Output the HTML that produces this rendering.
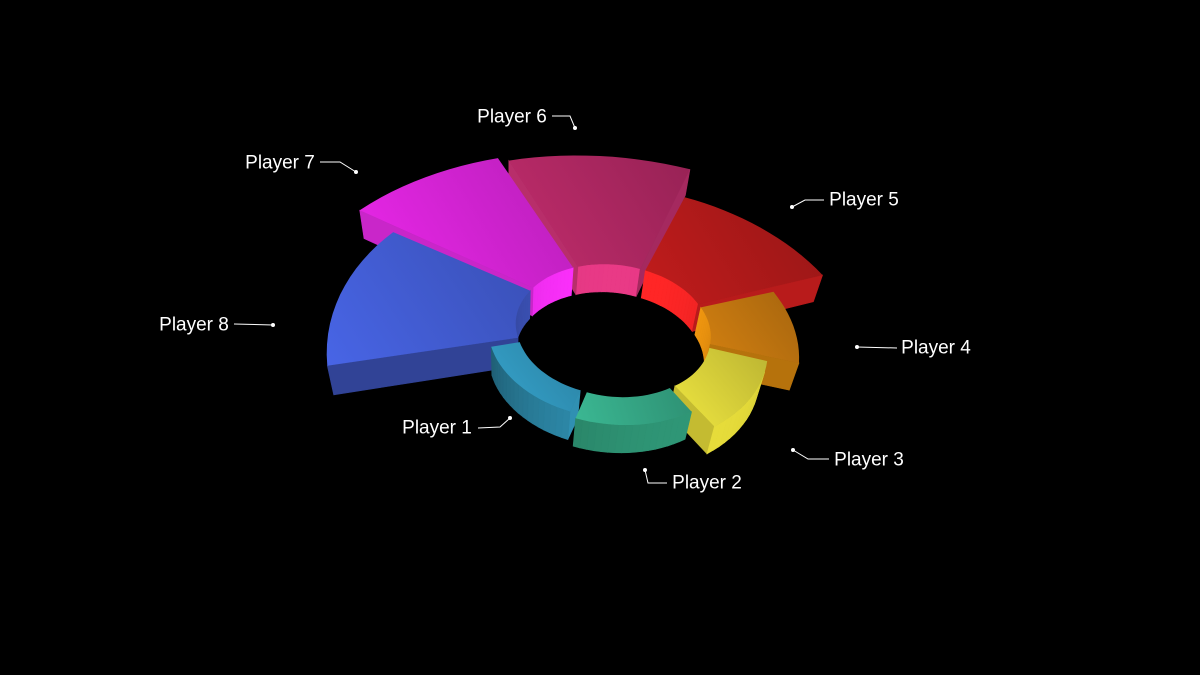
<!DOCTYPE html>
<html><head><meta charset="utf-8"><style>
html,body{margin:0;padding:0;background:#000;}
svg{display:block;}
text{font-family:"Liberation Sans",Arial,sans-serif;font-size:19px;fill:#fff;}
</style></head><body>
<svg id="chart" width="1200" height="675" viewBox="0 0 1200 675">
<defs id="defs"></defs>
<rect width="1200" height="675" fill="#000"/>
<g id="slices"></g>
<g id="labels"></g>
</svg>
<script>
const players = ['Player 1','Player 2','Player 3','Player 4','Player 5','Player 6','Player 7','Player 8'];
const sweepDeg = [55, 51, 43, 36, 48, 44, 36, 47];
const outerR = [1.3, 1.36, 1.62, 1.95, 2.7, 3.4, 3.5, 2.9];
const startDeg = 157;

const topCol = ['#2f8fb3','#33a080','#d0c838','#b8700f','#a81818','#a8265e','#cc22cc','#3f58c8'];
const wallCol = ['#3298bb','#2f9676','#e6dc3a','#d6860e','#d82020','#c23070','#d428d4','#34479e'];
const labelPos = [[437,428],[707,483],[869,460],[936,348],[864,200],[512,117],[280,163],[194,325]];
const leaders = [
 [[478,428],[500,427],[510,418]],
 [[667,483],[648,483],[645,470]],
 [[829,459],[808,459],[793,450]],
 [[897,348],[857,347]],
 [[824,200],[805,200],[792,207]],
 [[552,116],[570,116],[575,128]],
 [[320,162],[340,162],[356,172]],
 [[234,324],[273,325]]
];

const NS='http://www.w3.org/2000/svg';
const E=44*Math.PI/180, D=9, F=90*9, PHI=7*Math.PI/180, H=0.42, R0=1.0, EXPL=0.05;
const ce=Math.cos(E), se=Math.sin(E);
const cam=[0,D*ce,D*se];
function raw(x,y,z){
  const ry=y-D*ce, rz=z-D*se;
  const zc=-ce*ry-se*rz, yc=-se*ry+ce*rz;
  const sx=F*x/zc, sy=-F*yc/zc;
  return [sx*Math.cos(PHI)-sy*Math.sin(PHI), sx*Math.sin(PHI)+sy*Math.cos(PHI), zc];
}
const o=raw(0,0,H); const OX=614-o[0], OY=325-o[1];
function P(x,y,z){const r=raw(x,y,z);return [r[0]+OX,r[1]+OY,r[2]];}
function shade(hex,f){
  const n=parseInt(hex.slice(1),16);
  const c=[(n>>16)&255,(n>>8)&255,n&255].map(v=>Math.max(0,Math.min(255,Math.round(v*f))));
  return 'rgb('+c.join(',')+')';
}
function facing(pt,nrm){return (cam[0]-pt[0])*nrm[0]+(cam[1]-pt[1])*nrm[1]+(cam[2]-pt[2])*nrm[2]>0;}
function poly(g,pts,fill,name){
  const p=document.createElementNS(NS,'path');
  p.setAttribute('d','M'+pts.map(q=>q[0].toFixed(1)+','+q[1].toFixed(1)).join('L')+'Z');
  p.setAttribute('fill',fill);p.setAttribute('stroke',fill.startsWith('url')?'none':fill);p.setAttribute('stroke-width','0.6');
  
  
  g.appendChild(p);
}
const defs=document.getElementById('defs');
function grad(id,hex,pts){
  const xs=pts.map(p=>p[0]), ys=pts.map(p=>p[1]);
  const lg=document.createElementNS(NS,'linearGradient');
  lg.setAttribute('id',id);lg.setAttribute('gradientUnits','userSpaceOnUse');
  lg.setAttribute('x1',Math.min(...xs));lg.setAttribute('y1',Math.max(...ys));
  lg.setAttribute('x2',Math.max(...xs));lg.setAttribute('y2',Math.min(...ys));
  [[0,1.15],[1,0.9]].forEach(([off,f])=>{
    const st=document.createElementNS(NS,'stop');
    st.setAttribute('offset',off);st.setAttribute('stop-color',shade(hex,f));lg.appendChild(st);
  });
  defs.appendChild(lg);
  return 'url(#'+id+')';
}
const deg=Math.PI/180;
const gS=document.getElementById('slices');
const slices=[];
let cur=startDeg;
for(let i=0;i<players.length;i++){
  const hi=cur, lo=cur-sweepDeg[i]; cur=lo;
  const mid=(hi+lo)/2*deg;
  const ex=EXPL*Math.cos(mid), ey=EXPL*Math.sin(mid);
  const cen=P(ex+(R0+outerR[i])/2*Math.cos(mid), ey+(R0+outerR[i])/2*Math.sin(mid), H/2);
  slices.push({i,hi:hi*deg-0.012,lo:lo*deg+0.012,ex,ey,depth:cen[2]});
}
slices.sort((a,b)=>b.depth-a.depth);
slices.forEach(s=>{
  const i=s.i, R=outerR[i];
  const g=document.createElementNS(NS,'g');
  
  
  gS.appendChild(g);
  const W=(r,t,z)=>[s.ex+r*Math.cos(t), s.ey+r*Math.sin(t), z];
  const N=Math.max(6,Math.round((s.hi-s.lo)/deg/3));
  const ts=[];for(let k=0;k<=N;k++)ts.push(s.lo+(s.hi-s.lo)*k/N);
  for(let k=0;k<N;k++){
    const a=ts[k],b=ts[k+1],m=(a+b)/2;
    const pm=W(R0,m,H/2);
    if(facing(pm,[-Math.cos(m),-Math.sin(m),0])){
      const f=1.05+0.15*Math.cos(m+1.6);
      poly(g,[W(R0,a,0),W(R0,b,0),W(R0,b,H),W(R0,a,H)].map(q=>P(...q)),shade(wallCol[i],f),'inner-wall');
    }
  }
  const fh=[W(R0,s.hi,0),W(R,s.hi,0),W(R,s.hi,H),W(R0,s.hi,H)];
  if(facing(W((R0+R)/2,s.hi,H/2),[-Math.sin(s.hi),Math.cos(s.hi),0])) poly(g,fh.map(q=>P(...q)),shade(wallCol[i],0.85),'end-face');
  const fl=[W(R0,s.lo,0),W(R,s.lo,0),W(R,s.lo,H),W(R0,s.lo,H)];
  if(facing(W((R0+R)/2,s.lo,H/2),[Math.sin(s.lo),-Math.cos(s.lo),0])) poly(g,fl.map(q=>P(...q)),shade(wallCol[i],0.95),'end-face');
  for(let k=0;k<N;k++){
    const a=ts[k],b=ts[k+1],m=(a+b)/2;
    const pm=W(R,m,H/2);
    if(facing(pm,[Math.cos(m),Math.sin(m),0])){
      const f=0.7+0.3*Math.cos(m-0.9);
      poly(g,[W(R,a,0),W(R,b,0),W(R,b,H),W(R,a,H)].map(q=>P(...q)),shade(wallCol[i],f),'outer-wall');
    }
  }
  const top=[];
  ts.forEach(t=>top.push(P(...W(R,t,H))));
  ts.slice().reverse().forEach(t=>top.push(P(...W(R0,t,H))));
  poly(g,top,grad('g'+i,topCol[i],top),'top-face');
});
const gL=document.getElementById('labels');
players.forEach((nm,i)=>{
  const t=document.createElementNS(NS,'text');
  t.setAttribute('x',labelPos[i][0]);t.setAttribute('y',labelPos[i][1]);
  t.setAttribute('text-anchor','middle');t.setAttribute('dominant-baseline','central');
  t.textContent=nm;
  
  
  gL.appendChild(t);
  const l=document.createElementNS(NS,'polyline');
  l.setAttribute('points',leaders[i].map(p=>p.join(',')).join(' '));
  l.setAttribute('fill','none');l.setAttribute('stroke','#fff');l.setAttribute('stroke-width','1');
  
  
  gL.appendChild(l);
  const d=leaders[i][leaders[i].length-1];
  const c=document.createElementNS(NS,'circle');
  c.setAttribute('cx',d[0]);c.setAttribute('cy',d[1]);c.setAttribute('r','2');c.setAttribute('fill','#fff');
  
  
  gL.appendChild(c);
});
</script>
</body></html>
